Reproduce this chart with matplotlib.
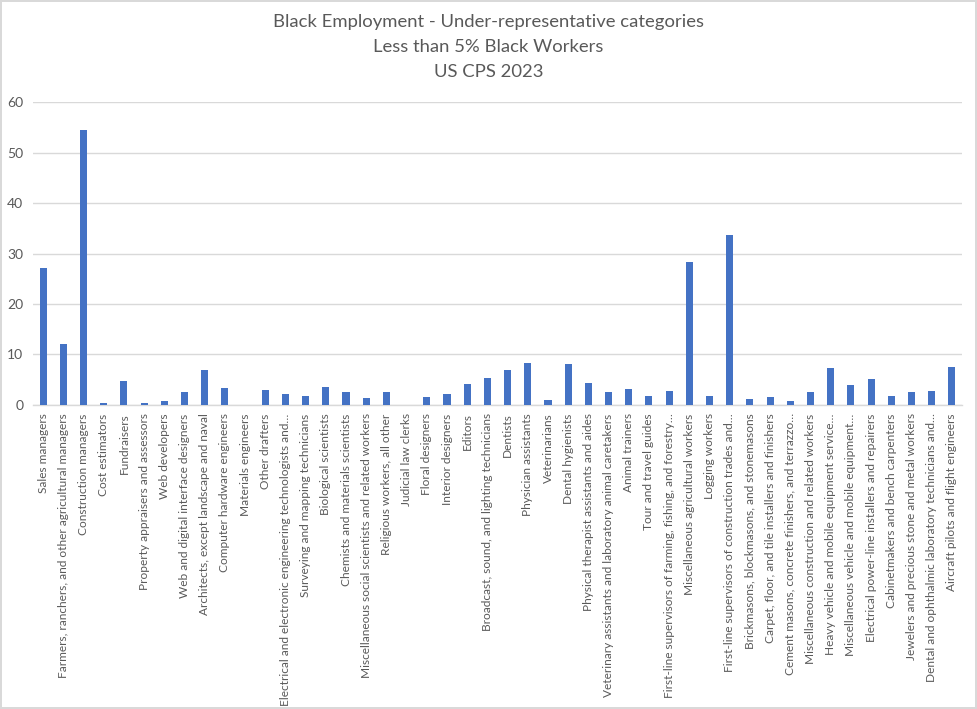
import matplotlib
matplotlib.use("Agg")
import matplotlib.pyplot as plt

categories = [
    "Sales managers",
    "Farmers, ranchers, and other agricultural managers",
    "Construction managers",
    "Cost estimators",
    "Fundraisers",
    "Property appraisers and assessors",
    "Web developers",
    "Web and digital interface designers",
    "Architects, except landscape and naval",
    "Computer hardware engineers",
    "Materials engineers",
    "Other drafters",
    "Electrical and electronic engineering technologists and…",
    "Surveying and mapping technicians",
    "Biological scientists",
    "Chemists and materials scientists",
    "Miscellaneous social scientists and related workers",
    "Religious workers, all other",
    "Judicial law clerks",
    "Floral designers",
    "Interior designers",
    "Editors",
    "Broadcast, sound, and lighting technicians",
    "Dentists",
    "Physician assistants",
    "Veterinarians",
    "Dental hygienists",
    "Physical therapist assistants and aides",
    "Veterinary assistants and laboratory animal caretakers",
    "Animal trainers",
    "Tour and travel guides",
    "First-line supervisors of farming, fishing, and forestry…",
    "Miscellaneous agricultural workers",
    "Logging workers",
    "First-line supervisors of construction trades and…",
    "Brickmasons, blockmasons, and stonemasons",
    "Carpet, floor, and tile installers and finishers",
    "Cement masons, concrete finishers, and terrazzo…",
    "Miscellaneous construction and related workers",
    "Heavy vehicle and mobile equipment service…",
    "Miscellaneous vehicle and mobile equipment…",
    "Electrical power-line installers and repairers",
    "Cabinetmakers and bench carpenters",
    "Jewelers and precious stone and metal workers",
    "Dental and ophthalmic laboratory technicians and…",
    "Aircraft pilots and flight engineers",
]

values = [
    27.2, 12.1, 54.5, 0.3, 4.8, 0.4, 0.8, 2.6, 6.9, 3.4,
    0.0, 3.0, 2.2, 1.8, 3.6, 2.6, 1.4, 2.6, 0.0, 1.6,
    2.2, 4.2, 5.4, 6.9, 8.3, 1.0, 8.1, 4.4, 2.6, 3.2,
    1.8, 2.8, 28.4, 1.8, 33.7, 1.2, 1.6, 0.8, 2.6, 7.3,
    4.0, 5.2, 1.8, 2.6, 2.8, 7.5,
]

title_lines = ["Black Employment - Under-representative categories",
               "Less than 5% Black Workers",
               "US CPS 2023"]

plt.rcParams['font.family'] = ['Lato', 'DejaVu Sans']
text_color = "#595959"
grid_color = "#d9d9d9"

fig = plt.figure(figsize=(9.77, 7.09), dpi=100)
fig.patch.set_edgecolor(grid_color)
fig.patch.set_linewidth(1.5)

ax = fig.add_axes([0.0338, 0.4288, 0.9508, 0.4273])
x = list(range(len(categories)))
ax.bar(x, values, width=0.35, color="#4472C4", zorder=3)

ax.set_xlim(-0.5, len(categories) - 0.5)
ax.set_ylim(0, 60)
ax.set_yticks(range(0, 61, 10))
ax.yaxis.grid(True, color=grid_color, linewidth=1, zorder=0)
ax.set_axisbelow(True)
for s in ["top", "right", "left"]:
    ax.spines[s].set_visible(False)
ax.spines["bottom"].set_color(grid_color)
ax.spines["bottom"].set_linewidth(1)

ax.set_xticks(x)
ax.set_xticklabels(categories, rotation=90, fontsize=8.6, color=text_color)
ax.tick_params(axis='x', length=0, pad=6)
ax.tick_params(axis='y', length=0, pad=7, labelsize=10, labelcolor=text_color)

for i, line in enumerate(title_lines):
    fig.text(0.5, 1 - (22 + 25 * i) / 709, line, ha='center', va='center',
             fontsize=13.3, color=text_color)

fig.savefig("out.png", dpi=100)
